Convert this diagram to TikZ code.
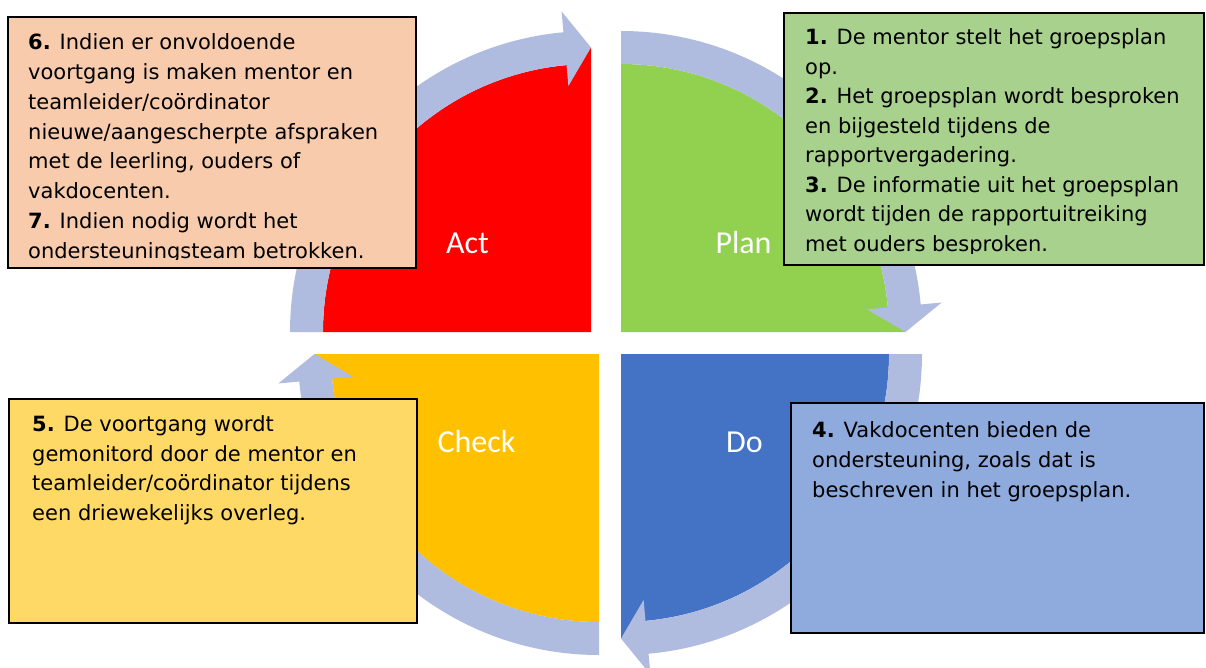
\documentclass[tikz,border=0pt]{standalone}
\usepackage{fontspec}
\setmainfont{DejaVu Sans}
\newfontfamily\labelfont{Carlito}
\usetikzlibrary{calc}
\definecolor{arrowc}{RGB}{176,188,223}
\definecolor{actred}{RGB}{255,0,0}
\definecolor{plangreen}{RGB}{146,208,80}
\definecolor{doblue}{RGB}{68,114,196}
\definecolor{checkorange}{RGB}{255,192,0}
\definecolor{boxsalmon}{RGB}{248,203,173}
\definecolor{boxgreen}{RGB}{169,209,142}
\definecolor{boxyellow}{RGB}{255,217,102}
\definecolor{boxblue}{RGB}{143,170,220}
% corner, start angle, colour
\newcommand\quadpie[3]{%
  \fill[#3] (#1) -- ($(#1)+(#2:268)$) arc[start angle=#2, end angle=#2-84.75, radius=268]
    -- ($(#1)+(#2-90:284.5)$) -- cycle;}
% corner, start angle
\newcommand\cyclearrow[2]{%
  \fill[arrowc] ($(#1)+(#2:301)$) arc[start angle=#2, end angle=#2-84.75, radius=301]
    -- ($(#1)+(#2-84.75:322)$) -- ($(#1)+(#2-90:284.5)$) -- ($(#1)+(#2-84.75:247)$)
    -- ($(#1)+(#2-84.75:268)$) arc[start angle=#2-84.75, end angle=#2, radius=268] -- cycle;}
\tikzset{
  txt/.style={font=\fontsize{21}{29.6}\selectfont, anchor=base west, inner sep=0pt},
  lab/.style={font=\labelfont\fontsize{32}{32}\selectfont, text=white, anchor=base, inner sep=0pt},
  boxline/.style={draw=black, line width=1.5pt}
}
\begin{document}
\begin{tikzpicture}[x=1pt,y=1pt]
\useasboundingbox (0,0) rectangle (1206,-668);
\fill[white] (0,0) rectangle (1206,-668);
\coordinate (A) at (591,-332);
\coordinate (P) at (621,-332);
\coordinate (D) at (621,-354);
\coordinate (C) at (599,-354);
% quadrants
\quadpie{A}{180}{actred}
\quadpie{P}{90}{plangreen}
\quadpie{D}{0}{doblue}
\quadpie{C}{-90}{checkorange}
% cycle arrows
\cyclearrow{A}{180}
\cyclearrow{P}{90}
\cyclearrow{D}{0}
\cyclearrow{C}{-90}
% quadrant labels
\node[lab] (lact) at (467.5,-253) {Act};
\node[lab] (lplan) at (743.5,-253) {Plan};
\node[lab] (lcheck) at (476.5,-452) {Check};
\node[lab] (ldo) at (744.5,-452) {Do};
% Act box
\fill[boxsalmon] (8,-17) rectangle (416,-268);
\begin{scope}
\clip (8,-17) rectangle (416,-259.8);
\foreach \t [count=\i from 0] in {{\textbf{6.} Indien er onvoldoende},{voortgang is maken mentor en},{teamleider/coördinator},{nieuwe/aangescherpte afspraken},{met de leerling, ouders of},{vakdocenten.},{\textbf{7.} Indien nodig wordt het},{ondersteuningsteam betrokken.}}
  \node[txt] (act\i) at (28,{-50-29.75*\i}) {\t};
\end{scope}
\draw[boxline] (8,-17) rectangle (416,-268);
% Plan box
\fill[boxgreen] (784,-13) rectangle (1204,-265);
\begin{scope}
\clip (784,-13) rectangle (1204,-253.5);
\foreach \t [count=\i from 0] in {{\textbf{1.} De mentor stelt het groepsplan},{op.},{\textbf{2.} Het groepsplan wordt besproken},{en bijgesteld tijdens de},{rapportvergadering.},{\textbf{3.} De informatie uit het groepsplan},{wordt tijden de rapportuitreiking},{met ouders besproken.}}
  \node[txt] (plan\i) at (805,{-45-29.5*\i}) {\t};
\end{scope}
\draw[boxline] (784,-13) rectangle (1204,-265);
% Check box
\filldraw[fill=boxyellow, boxline] (9,-399) rectangle (417,-623);
\foreach \t [count=\i from 0] in {{\textbf{5.} De voortgang wordt},{gemonitord door de mentor en},{teamleider/coördinator tijdens},{een driewekelijks overleg.}}
  \node[txt] (check\i) at (32,{-431.7-29.5*\i}) {\t};
% Do box
\filldraw[fill=boxblue, boxline] (791,-403) rectangle (1204,-633);
\foreach \t [count=\i from 0] in {{\textbf{4.} Vakdocenten bieden de},{ondersteuning, zoals dat is},{beschreven in het groepsplan.}}
  \node[txt] (do\i) at (812,{-437-30*\i}) {\t};
\end{tikzpicture}
\end{document}
